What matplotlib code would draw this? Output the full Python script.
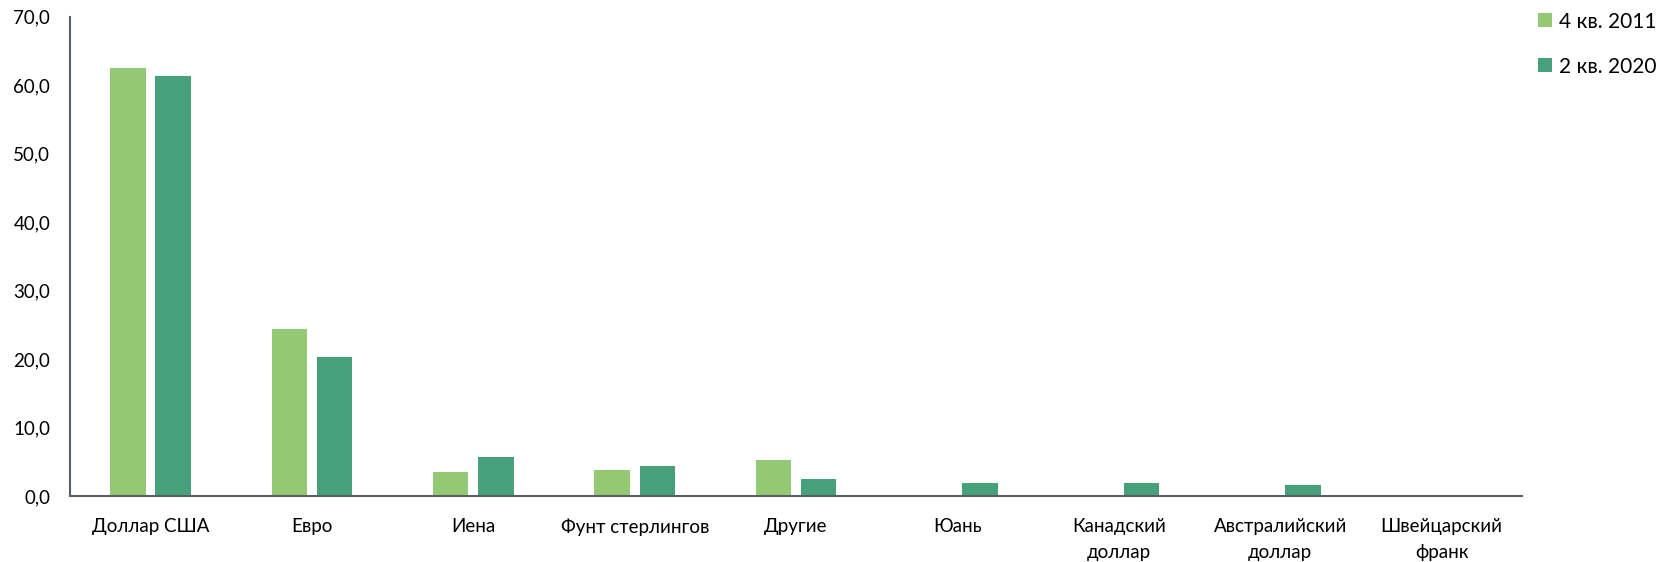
import matplotlib.pyplot as plt
import numpy as np

plt.rcParams['font.family'] = ['Lato', 'DejaVu Sans']

# currency shares in reserves, %
categories = ['Доллар США', 'Евро', 'Иена', 'Фунт стерлингов', 'Другие', 'Юань',
              'Канадский\nдоллар', 'Австралийский\nдоллар', 'Швейцарский\nфранк']
q4_2011 = [62.6, 24.4, 3.6, 3.8, 5.3, 0, 0, 0, 0]
q2_2020 = [61.3, 20.3, 5.7, 4.4, 2.5, 2.0, 1.9, 1.6, 0.2]
series_labels = ['4 кв. 2011', '2 кв. 2020']
yticks = np.arange(0, 71, 10)

fig = plt.figure(figsize=(16.62, 5.62), dpi=100)
ax = fig.add_axes([0.042, 0.117, 0.874, 0.853])

x = np.arange(len(categories))
w = 0.22
ax.bar(x - 0.14, q4_2011, w, color='#93C973', label=series_labels[0], zorder=2)
ax.bar(x + 0.14, q2_2020, w, color='#46A07A', label=series_labels[1], zorder=2)

ax.set_xlim(-0.5, len(categories) - 0.5)
ax.set_ylim(0, 70)
ax.set_yticks(yticks)
ax.set_yticklabels([f'{v:.1f}'.replace('.', ',') for v in yticks], fontsize=13.5)
ax.set_xticks(x)
ax.set_xticklabels(categories, fontsize=13.5, linespacing=1.6, va='top')
ax.tick_params(axis='x', length=0, pad=16)
ax.tick_params(axis='y', length=0, pad=14)

for s in ['top', 'right']:
    ax.spines[s].set_visible(False)
for s in ['left', 'bottom']:
    ax.spines[s].set_color('#5a6068')
    ax.spines[s].set_linewidth(1.5)

ax.legend(loc='upper left', bbox_to_anchor=(0.998, 1.05), frameon=False, fontsize=15,
          handlelength=0.65, handleheight=0.65, handletextpad=0.35, labelspacing=1.2)

plt.savefig('out.png', dpi=100)
